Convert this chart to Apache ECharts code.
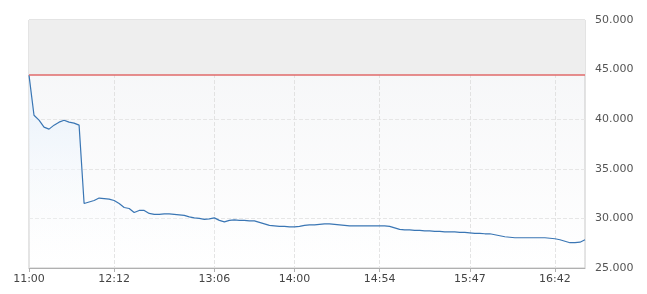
<!DOCTYPE html>
<html>
<head>
<meta charset="utf-8">
<script src="https://cdn.jsdelivr.net/npm/echarts@6/dist/echarts.min.js"></script>
<style>
html, body { margin: 0; padding: 0; background: #fff; }
#chart { width: 647px; height: 294px; }
</style>
</head>
<body>
<div id="chart"></div>
<script>
// price per sample point
var prices = [
	44.45, 40.4, 39.9, 39.2, 39.0, 39.4, 39.7, 39.9, 39.7, 39.6,
	39.4, 31.5, 31.65, 31.8, 32.05, 32.0, 31.95, 31.8, 31.5, 31.1,
	31.0, 30.6, 30.8, 30.8, 30.5, 30.4, 30.4, 30.45, 30.45, 30.4,
	30.35, 30.3, 30.15, 30.05, 30.0, 29.9, 29.95, 30.05, 29.8, 29.65,
	29.8, 29.85, 29.8, 29.8, 29.75, 29.75, 29.6, 29.45, 29.3, 29.25,
	29.2, 29.2, 29.15, 29.15, 29.2, 29.3, 29.35, 29.35, 29.4, 29.45,
	29.45, 29.4, 29.35, 29.3, 29.25, 29.25, 29.25, 29.25, 29.25, 29.25,
	29.25, 29.25, 29.2, 29.05, 28.9, 28.85, 28.85, 28.8, 28.8, 28.75,
	28.75, 28.7, 28.7, 28.65, 28.65, 28.65, 28.6, 28.6, 28.55, 28.5,
	28.5, 28.45, 28.45, 28.35, 28.25, 28.15, 28.1, 28.05, 28.05, 28.05,
	28.05, 28.05, 28.05, 28.05, 28.0, 27.95, 27.85, 27.7, 27.55, 27.55,
	27.6, 27.85
];
var timeLabels = ['11:00', '12:12', '13:06', '14:00', '14:54', '15:47', '16:42'];
var labelIndex = [0, 17, 37, 53, 70, 88, 105];
var refPrice = 44.45;

var categories = prices.map(function (v, i) {
	var k = labelIndex.indexOf(i);
	return k >= 0 ? timeLabels[k] : '';
});
function atLabel(i) { return labelIndex.indexOf(i) >= 0; }

var myChart = echarts.init(document.getElementById('chart'));
var option = {
	animation: false,
	grid: {
		left: 29, right: 62, top: 20, bottom: 26,
		show: true,
		borderColor: '#c8c8c8',
		borderWidth: 1,
		backgroundColor: new echarts.graphic.LinearGradient(0, 0, 0, 1, [
			{ offset: 0, color: '#f4f5f7' },
			{ offset: 1, color: '#ffffff' }
		])
	},
	xAxis: {
		type: 'category',
		boundaryGap: false,
		data: categories,
		axisLine: { lineStyle: { color: '#b0b0b0' } },
		axisTick: { show: true, interval: atLabel, length: 4, lineStyle: { color: '#b0b0b0' } },
		axisLabel: {
			interval: atLabel,
			color: '#444',
			fontFamily: 'DejaVu Sans',
			fontSize: 11,
			margin: 6
		},
		splitLine: { show: true, interval: atLabel, lineStyle: { color: '#e2e2e2', type: 'dashed' } }
	},
	yAxis: {
		type: 'value',
		position: 'right',
		min: 25, max: 50, interval: 5,
		axisLine: { show: false },
		axisTick: { show: false },
		axisLabel: {
			color: '#555',
			fontFamily: 'DejaVu Sans',
			fontSize: 11,
			margin: 10,
			formatter: function (v) { return v.toFixed(3); }
		},
		splitLine: { show: true, lineStyle: { color: '#e6e6e6', type: 'dashed' } }
	},
	series: [{
		type: 'line',
		data: prices,
		symbol: 'none',
		lineStyle: { color: '#3a76b4', width: 1.2 },
		areaStyle: {
			opacity: 1,
			color: new echarts.graphic.LinearGradient(0, 0, 0, 1, [
				{ offset: 0, color: '#e6f0fb' },
				{ offset: 1, color: 'rgba(255,255,255,0)' }
			])
		},
		markArea: {
			silent: true,
			itemStyle: { color: '#eeeeee' },
			data: [[{ yAxis: refPrice }, { yAxis: 50 }]]
		},
		markLine: {
			silent: true,
			symbol: 'none',
			label: { show: false },
			lineStyle: { color: '#e06a6a', width: 1.5, type: 'solid' },
			data: [{ yAxis: refPrice }]
		}
	}]
};
myChart.setOption(option);
</script>
</body>
</html>
